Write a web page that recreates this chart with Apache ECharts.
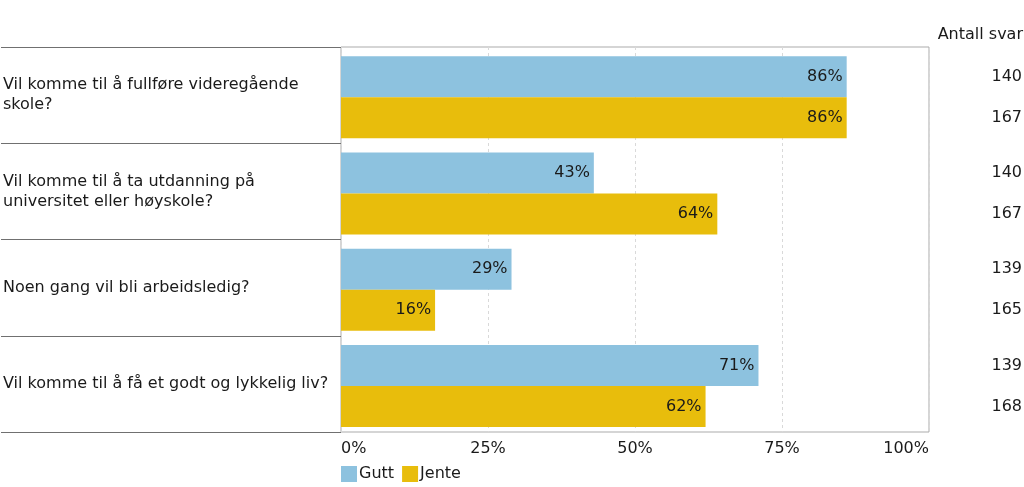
<!DOCTYPE html>
<html><head><meta charset="utf-8">
<script src="https://cdn.jsdelivr.net/npm/echarts@6/dist/echarts.min.js"></script>
<style>html,body{margin:0;padding:0;background:#fff}#c{width:1024px;height:487px}</style>
</head><body><div id="c"></div>
<script>
const categories = [
  "Vil komme til å fullføre videregående\nskole?",
  "Vil komme til å ta utdanning på\nuniversitet eller høyskole?",
  "Noen gang vil bli arbeidsledig?",
  "Vil komme til å få et godt og lykkelig liv?"
];
const gutt = [86, 43, 29, 71];
const jente = [86, 64, 16, 62];
const guttCount = [140, 140, 139, 139];
const jenteCount = [167, 167, 165, 168];
const countHeader = "Antall svar";
const FONT = "DejaVu Sans";
const FS = 16;
const TXT = "#1a1a1a";

const chart = echarts.init(document.getElementById('c'), null, {renderer: 'canvas'});
const W = 1024;
const countLabel = (arr) => ({
  show: true, position: 'right', color: TXT, fontFamily: FONT, fontSize: FS,
  formatter: p => String(arr[p.dataIndex])
});
const countLayout = (p) => ({x: W - 2, y: p.rect.y + p.rect.height / 2, align: 'right', verticalAlign: 'middle'});
chart.setOption({
  animation: false,
  textStyle: {fontFamily: FONT},
  title: {text: countHeader, right: 1, top: 27, padding: 0, textStyle: {fontFamily: FONT, fontSize: FS, fontWeight: 'normal', color: TXT}},
  legend: {
    data: ['Gutt', 'Jente'], left: 341, bottom: 5, padding: 0, itemWidth: 16, itemHeight: 16, itemGap: 8,
    icon: 'rect', textStyle: {fontFamily: FONT, fontSize: FS, color: TXT, padding: [0,0,0,-3]}
  },
  grid: [
    {left: 341, right: 95, top: 49, bottom: 53},
    {left: 0, width: 341, top: 47, bottom: 55},
    {left: 341, right: 95, top: 47, bottom: 55, show: true, borderColor: '#ababab', borderWidth: 1}
  ],
  xAxis: [
    {type: 'value', gridIndex: 0, min: 0, max: 100, show: false},
    {type: 'value', gridIndex: 1, show: false},
    {type: 'value', gridIndex: 2, min: 0, max: 100, interval: 25,
     axisLine: {show: false}, axisTick: {show: false},
     splitLine: {show: true, lineStyle: {color: '#d9d9d9', type: [3, 3]}},
     axisLabel: {formatter: '{value}%', color: TXT, fontFamily: FONT, fontSize: FS, margin: 9,
       alignMinLabel: 'left', alignMaxLabel: 'right'}}
  ],
  yAxis: [
    {type: 'category', gridIndex: 0, data: categories, inverse: true, show: false},
    {type: 'category', gridIndex: 1, data: categories, inverse: true,
     axisLine: {show: false}, axisTick: {show: false},
     splitLine: {show: true, lineStyle: {color: '#707070', width: 1}},
     axisLabel: {inside: true, margin: 2, color: TXT, fontFamily: FONT, fontSize: FS, lineHeight: 20, align: 'left', padding: [5, 0, 0, 0]}},
    {type: 'category', gridIndex: 2, data: categories, inverse: true, show: false}
  ],
  series: [
    {name: 'Gutt', type: 'bar', xAxisIndex: 0, yAxisIndex: 0, stack: 'g', data: gutt, barWidth: 41, barGap: '0%',
     itemStyle: {color: '#8dc2df'},
     label: {show: true, position: 'insideRight', distance: 4, color: TXT, fontFamily: FONT, fontSize: FS, formatter: '{c}%'}},
    {name: 'GuttN', type: 'bar', xAxisIndex: 0, yAxisIndex: 0, stack: 'g', data: guttCount.map(() => 0), barWidth: 41,
     itemStyle: {color: 'rgba(0,0,0,0)'}, label: countLabel(guttCount), labelLayout: countLayout},
    {name: 'Jente', type: 'bar', xAxisIndex: 0, yAxisIndex: 0, stack: 'j', data: jente, barWidth: 41, barGap: '0%',
     itemStyle: {color: '#e8bd0c'},
     label: {show: true, position: 'insideRight', distance: 4, color: TXT, fontFamily: FONT, fontSize: FS, formatter: '{c}%'}},
    {name: 'JenteN', type: 'bar', xAxisIndex: 0, yAxisIndex: 0, stack: 'j', data: jenteCount.map(() => 0), barWidth: 41,
     itemStyle: {color: 'rgba(0,0,0,0)'}, label: countLabel(jenteCount), labelLayout: countLayout}
  ]
});
</script></body></html>
